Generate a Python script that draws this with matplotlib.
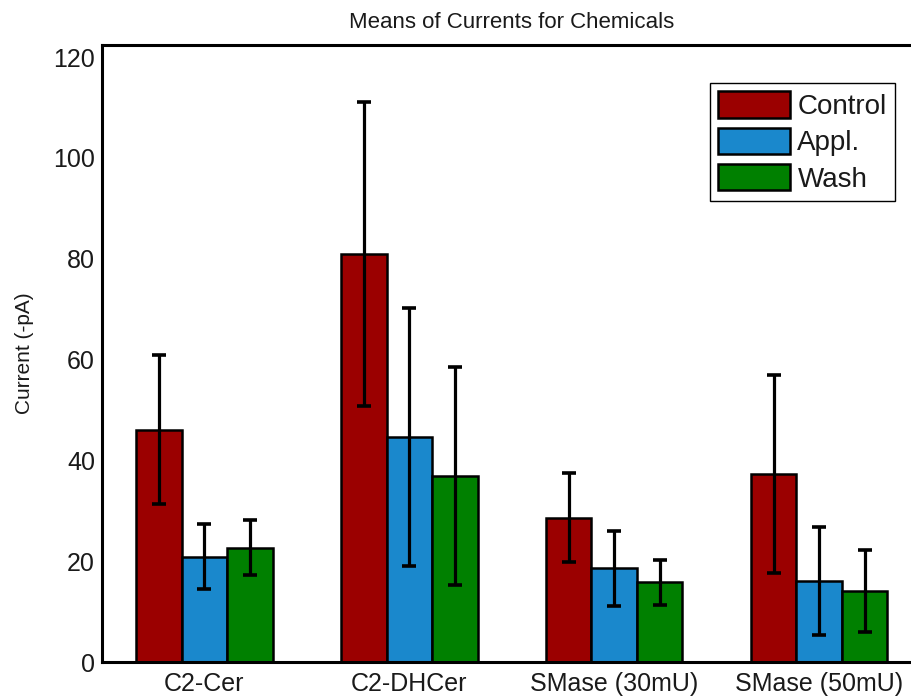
import numpy as np
import matplotlib
matplotlib.use('Agg')
import matplotlib.pyplot as plt

plt.rcParams['font.family'] = ['Liberation Sans', 'DejaVu Sans']

chemicals = ['C2-Cer', 'C2-DHCer', 'SMase (30mU)', 'SMase (50mU)']
conditions = ['Control', 'Appl.', 'Wash']

# mean currents (-pA) per chemical, one list per condition
controlMean = [46.1, 80.9, 28.6, 37.3]
applMean = [20.9, 44.6, 18.6, 16.1]
washMean = [22.7, 36.9, 15.8, 14.1]

# symmetric error bar half-lengths
controlErr = [14.8, 30.2, 8.8, 19.7]
applErr = [6.4, 25.6, 7.4, 10.7]
washErr = [5.4, 21.6, 4.5, 8.2]

colors = ['#9b0000', '#1a88cc', '#008000']

fig = plt.figure(figsize=(9.11, 7.0), dpi=100, facecolor='w')
# axes run past the right edge of the figure
ax = fig.add_axes([102 / 911, 1 - 662 / 700, 819.5 / 911, 617 / 700])

x = np.arange(1, len(chemicals) + 1)
width = 0.222
means = [controlMean, applMean, washMean]
errs = [controlErr, applErr, washErr]

for i in range(len(conditions)):
	ax.bar(
		x + (i - 1) * width,
		means[i],
		width,
		yerr=errs[i],
		color=colors[i],
		edgecolor='k',
		linewidth=1.8,
		label=conditions[i],
		error_kw={'ecolor': 'k', 'elinewidth': 2.3, 'capsize': 4.8, 'capthick': 2.6},
		zorder=2)

ax.set_xlim(0.5, 4.5)
ax.set_ylim(0, 122.4)
ax.set_yticks(np.arange(0, 121, 20))
ax.set_xticks(x)
ax.set_xticklabels(chemicals)
ax.tick_params(axis='both', length=0, labelsize=18, labelcolor='#1a1a1a')
ax.tick_params(axis='y', pad=5)
ax.tick_params(axis='x', pad=7)

for side in ['left', 'bottom', 'top', 'right']:
	ax.spines[side].set_linewidth(2.2)

ax.set_ylabel('Current (-pA)', fontsize=15, color='#1a1a1a')
ax.yaxis.set_label_coords(-0.083, 0.5)
ax.set_title('Means of Currents for Chemicals', fontsize=16, pad=12, color='#1a1a1a')

lgd = ax.legend(
	loc='upper right',
	bbox_to_anchor=(895 / 911, 1 - 83 / 700),
	bbox_transform=fig.transFigure,
	borderaxespad=0,
	fontsize=20,
	handlelength=2.6,
	handleheight=1.08,
	handletextpad=0.25,
	labelspacing=0.28,
	borderpad=0.3,
	fancybox=False,
	framealpha=1,
	edgecolor='k')
lgd.get_frame().set_linewidth(1.0)
for t in lgd.get_texts():
	t.set_color('#1a1a1a')

fig.savefig('out.png', dpi=100)
plt.close(fig)
